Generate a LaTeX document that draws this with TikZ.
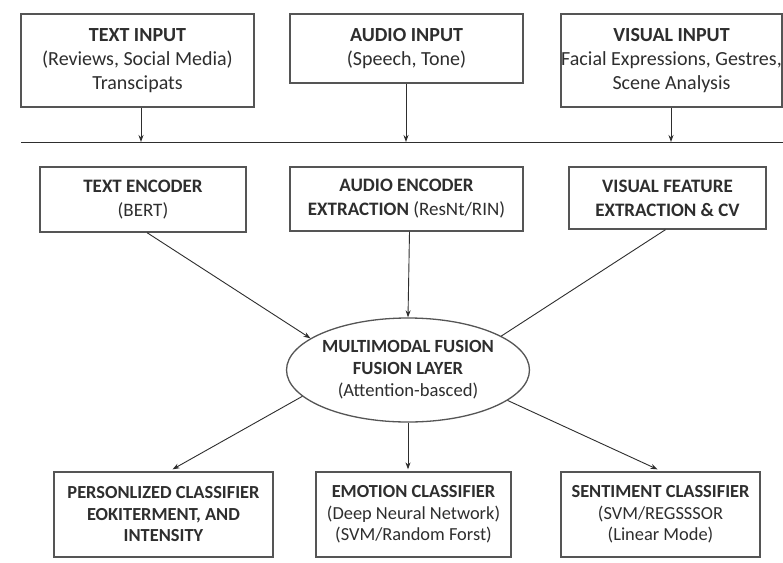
\documentclass[tikz,border=0pt]{standalone}
\usepackage{fontspec}
\setmainfont{Carlito}
\usetikzlibrary{shapes.geometric,arrows.meta}
\definecolor{ink}{HTML}{2E2E2E}
\definecolor{frame}{HTML}{555555}
\tikzset{
  box/.style={draw=frame, line width=1.3pt, rectangle, inner sep=0pt, align=center, text=ink},
  topfont/.style={font=\fontsize{20}{24}\selectfont},
  encfont/.style={font=\fontsize{19}{24}\selectfont},
  botfont/.style={font=\fontsize{18.4}{21.5}\selectfont},
  conn/.style={draw=ink, line width=0.9pt},
  arr/.style={conn, -{Stealth[length=7pt,width=5pt]}},
}
\begin{document}
\begin{tikzpicture}[x=1pt,y=-1pt]
\useasboundingbox (0,0) rectangle (783,562);
\fill[white] (0,0) rectangle (783,562);
% top inputs
\node[box,topfont,minimum width=233pt,minimum height=93pt] (tin) at (137.5,60.5) {\textbf{TEXT INPUT}\\(Reviews, Social Media)\\Transcipats};
\node[box,topfont,minimum width=233pt,minimum height=69pt] (ain) at (406.5,48.5) {\textbf{AUDIO INPUT}\\(Speech, Tone)};
\node[box,topfont,minimum width=221pt,minimum height=93pt] (vin) at (671.5,60.5) {\textbf{VISUAL INPUT}\\Facial Expressions, Gestres,\\Scene Analysis};
% bus line
\coordinate (busL) at (21,142);
\coordinate (busR) at (790,142);
\draw[conn] (busL) -- (busR);
\coordinate (bt) at (141,142);
\coordinate (ba) at (406,142);
\coordinate (bv) at (671,142);
\draw[arr] (tin.south -| bt) -- (bt);
\draw[arr] (ain.south -| ba) -- (ba);
\draw[arr] (vin.south -| bv) -- (bv);
% encoders
\node[box,encfont,minimum width=206pt,minimum height=65pt] (tenc) at (143,199.5) {\textbf{TEXT ENCODER}\\(BERT)};
\node[box,encfont,minimum width=233pt,minimum height=64pt] (aenc) at (406.5,199) {\textbf{AUDIO ENCODER}\\\textbf{EXTRACTION} (ResNt/RIN)};
\node[box,encfont,minimum width=197pt,minimum height=62pt] (venc) at (667.5,198) {\textbf{VISUAL FEATURE}\\\textbf{EXTRACTION \& CV}};
% fusion
\node[draw=frame, line width=1.3pt, ellipse, inner sep=0pt, minimum width=240pt, minimum height=104pt, align=center, text=ink, font=\fontsize{18.6}{22}\selectfont] (fus) at (408,370) {\textbf{MULTIMODAL FUSION}\\\textbf{FUSION LAYER}\\(Attention-basced)};
\draw[arr] ([xshift=4pt]tenc.south) -- (fus.162);
\draw[arr] ([xshift=3pt]aenc.south) -- (fus.north);
\draw[conn] ([xshift=-2pt]venc.south) -- (fus.20);
% classifiers
\node[box,botfont,minimum width=219pt,minimum height=85pt] (pc) at (163.5,514.5) {\textbf{PERSONLIZED CLASSIFIER}\\\textbf{EOKITERMENT, AND}\\\textbf{INTENSITY}};
\node[box,botfont,minimum width=195pt,minimum height=85pt] (ec) at (413.5,514.5) {\textbf{EMOTION CLASSIFIER}\\(Deep Neural Network)\\(SVM/Random Forst)};
\node[box,botfont,minimum width=199pt,minimum height=85pt] (sc) at (660.5,514.5) {\textbf{SENTIMENT CLASSIFIER}\\(SVM/REGSSSOR\\(Linear Mode)};
\draw[arr] (fus.194) -- ([xshift=9pt,yshift=2pt]pc.north);
\draw[arr] (fus.south) -- ([yshift=2pt]fus.south |- ec.north);
\draw[arr] (fus.-17) -- ([xshift=-3pt,yshift=2pt]sc.north);
\end{tikzpicture}
\end{document}
